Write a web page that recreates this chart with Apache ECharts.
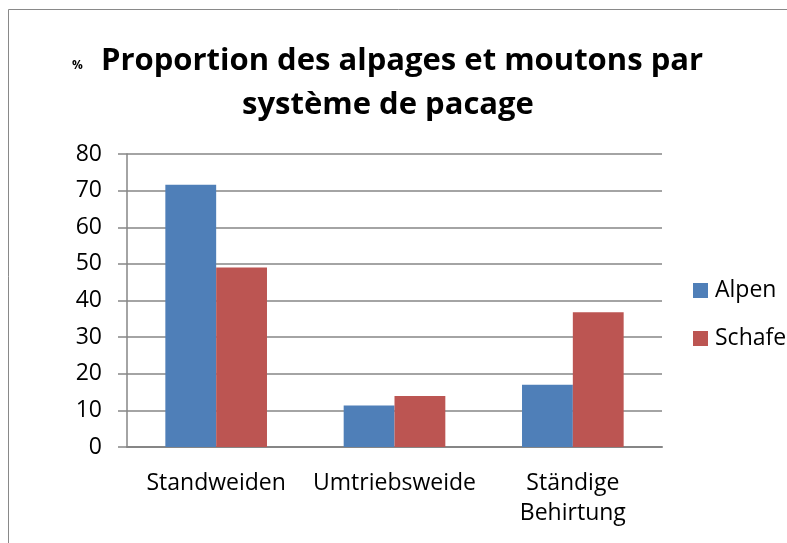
<!DOCTYPE html>
<html>
<head>
<meta charset="utf-8">
<script src="https://cdn.jsdelivr.net/npm/echarts@6/dist/echarts.min.js"></script>
<style>
html,body{margin:0;padding:0;background:#fff;}
#chart{width:787px;height:543px;}
</style>
</head>
<body>
<div id="chart"></div>
<script>
const categories = ['Standweiden', 'Umtriebsweide', 'Ständige\nBehirtung'];
const seriesNames = ['Alpen', 'Schafe'];
const alpenValues = [71.6, 11.3, 17.0];
const schafeValues = [49.0, 13.9, 36.8];
const yTicks = { min: 0, max: 80, interval: 10 };
const titlePrefix = '%';
const titleLine1 = 'Proportion des alpages et moutons par';
const titleLine2 = 'système de pacage';

const FONT = '"Open Sans", "Liberation Sans", sans-serif';
const titleStyle = { fontSize: 31, fontWeight: 'bold', fontFamily: FONT, color: '#000', lineHeight: 44 };
const chart = echarts.init(document.getElementById('chart'), null, { renderer: 'canvas' });
chart.setOption({
  animation: false,
  backgroundColor: '#ffffff',
  graphic: [{
    type: 'rect',
    shape: { x: 8.5, y: 9.5, width: 800, height: 560 },
    style: { fill: 'none', stroke: '#898989', lineWidth: 1 },
    silent: true
  }],
  title: [
    {
      text: titlePrefix, left: 67, top: 55,
      textStyle: { fontSize: 12, fontWeight: 'bold', fontFamily: FONT, color: '#000', lineHeight: 12 }
    },
    { text: titleLine1, left: 397, top: 34, textAlign: 'center', textStyle: titleStyle },
    { text: titleLine2, left: 383, top: 78, textAlign: 'center', textStyle: titleStyle }
  ],
  legend: {
    orient: 'vertical',
    left: 688,
    top: 274,
    itemWidth: 15,
    itemHeight: 15,
    itemGap: 25,
    icon: 'rect',
    textStyle: { fontSize: 23, lineHeight: 23, fontFamily: FONT, color: '#000', padding: [0, 0, 0, 2] },
    data: seriesNames
  },
  grid: { left: 127, right: 125, top: 154, bottom: 96, containLabel: false },
  xAxis: {
    type: 'category',
    data: categories,
    axisLine: { lineStyle: { color: '#868686', width: 2 } },
    axisTick: { show: false },
    axisLabel: { fontSize: 23, fontFamily: FONT, color: '#000', margin: 21, lineHeight: 30, interval: 0 }
  },
  yAxis: {
    type: 'value',
    min: yTicks.min,
    max: yTicks.max,
    interval: yTicks.interval,
    axisLine: { show: true, lineStyle: { color: '#868686', width: 1.5 } },
    axisTick: { show: true, inside: false, length: 9, lineStyle: { color: '#868686', width: 1.5 } },
    splitLine: { show: true, lineStyle: { color: '#868686', width: 1.5 } },
    axisLabel: { fontSize: 23, fontFamily: FONT, color: '#000', margin: 25 }
  },
  series: [
    {
      name: seriesNames[0], type: 'bar', data: alpenValues,
      barGap: '0%', barCategoryGap: '43%',
      itemStyle: { color: '#4F7FB8' }
    },
    {
      name: seriesNames[1], type: 'bar', data: schafeValues,
      barGap: '0%', barCategoryGap: '43%',
      itemStyle: { color: '#BC5552' }
    }
  ]
});
</script>
</body>
</html>
